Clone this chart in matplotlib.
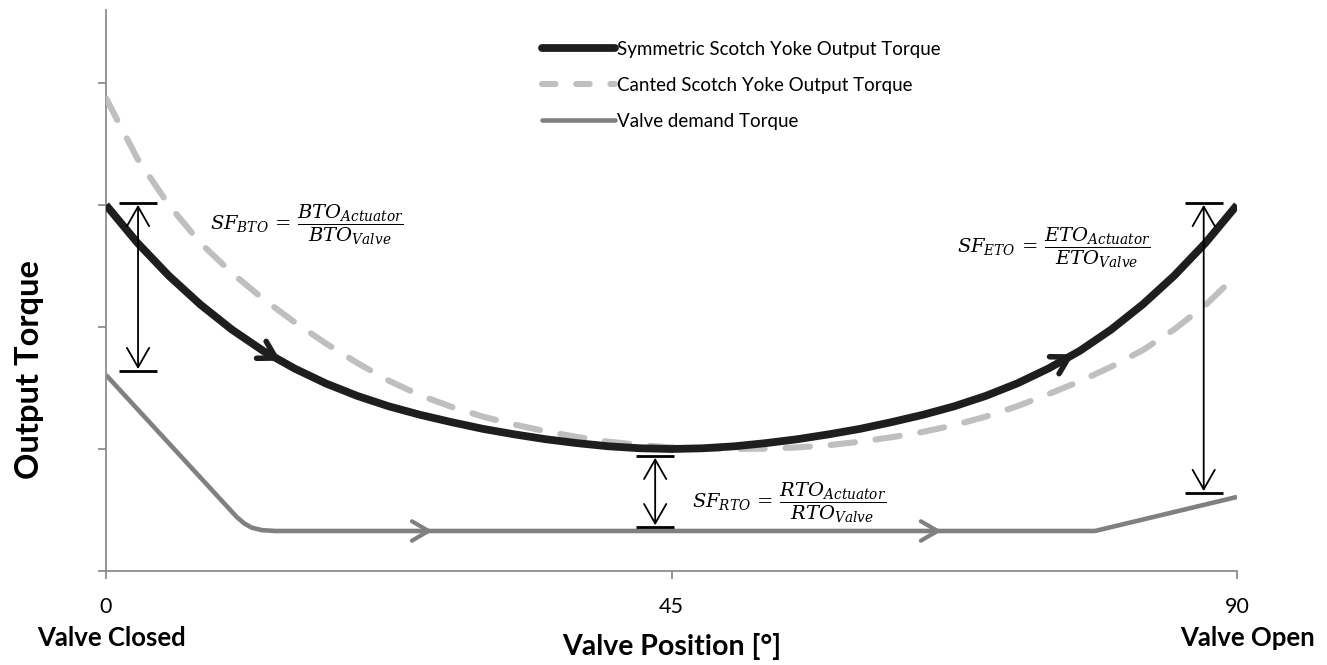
import numpy as np
import matplotlib
matplotlib.use("Agg")
import matplotlib.pyplot as plt
from matplotlib.lines import Line2D

plt.rcParams['font.family'] = ['Lato', 'DejaVu Sans']
plt.rcParams['mathtext.fontset'] = 'dejavuserif'

# ---- data ----
pos_grid = [0, 2.5, 5, 7.5, 10, 12.5, 15, 17.5, 20, 22.5, 25, 27.5, 30, 32.5, 35, 37.5, 40, 42.5, 45,
            47.5, 50, 52.5, 55, 57.5, 60, 62.5, 65, 67.5, 70, 72.5, 75, 77.5, 80, 82.5, 85, 87.5, 90]
symmetric_torque = [3.00, 2.69, 2.42, 2.185, 1.98, 1.805, 1.66, 1.537, 1.435, 1.35, 1.28, 1.22, 1.165,
                    1.12, 1.08, 1.048, 1.022, 1.006, 1.00,
                    1.006, 1.022, 1.048, 1.08, 1.12, 1.165, 1.22, 1.28, 1.35, 1.435, 1.537, 1.66,
                    1.805, 1.98, 2.185, 2.42, 2.69, 3.00]
canted_torque = [3.875, 3.38, 3.00, 2.69, 2.445, 2.23, 2.04, 1.865, 1.705, 1.56, 1.44, 1.345, 1.265,
                 1.20, 1.145, 1.098, 1.06, 1.032, 1.013, 1.003, 1.00, 1.003, 1.013, 1.031, 1.06,
                 1.096, 1.14, 1.195, 1.265, 1.35, 1.45, 1.555, 1.675, 1.81, 1.98, 2.18, 2.43]
valve_pos = [0, 10.4, 11.0, 11.6, 12.4, 13.5, 78.7, 90]
valve_torque = [1.607, 0.443, 0.39, 0.355, 0.335, 0.328, 0.328, 0.607]

x_ticks = [0, 45, 90]
x_tick_labels = ['0', '45', '90']
y_ticks = [0, 1, 2, 3, 4]

labels = ['Symmetric Scotch Yoke Output Torque', 'Canted Scotch Yoke Output Torque', 'Valve demand Torque']

# safety-factor markers: (x, y_low, y_high)
sf_bto = (2.55, 1.64, 3.016)
sf_rto = (43.7, 0.36, 0.943)
sf_eto = (87.35, 0.64, 3.016)

# ---- figure ----
fig = plt.figure(figsize=(13.27, 6.65), dpi=100)
ax = fig.add_axes([106/1327, 1-571/665, (1237-106)/1327, (571-10)/665])
ax.set_xlim(0, 90)
ax.set_ylim(0, 561/122)

c_black = '#1e1e1e'
c_light = '#bfbfbf'
c_gray = '#808080'

ax.plot(valve_pos, valve_torque, color=c_gray, lw=3.3, solid_capstyle='butt',
        solid_joinstyle='round', zorder=2)
ax.plot(pos_grid, canted_torque, color=c_light, lw=4.4, dashes=(4.0, 3.4), dash_capstyle='round',
        dash_joinstyle='round', zorder=3)
ax.plot(pos_grid, symmetric_torque, color=c_black, lw=5.6, solid_capstyle='butt',
        solid_joinstyle='round', zorder=4)

# direction chevrons on curves
def chevron(xc, xs, ys, color, lw, ms):
    y1 = np.interp(xc, xs, ys)
    y0 = np.interp(xc - 0.6, xs, ys)
    ax.annotate('', xy=(xc, y1), xytext=(xc - 0.6, y0),
                arrowprops=dict(arrowstyle='->,head_length=0.6,head_width=0.35', lw=lw,
                                color=color, mutation_scale=ms, shrinkA=0, shrinkB=0),
                zorder=5)

chevron(13.9, pos_grid, symmetric_torque, c_black, 4, 20)
chevron(77.0, pos_grid, symmetric_torque, c_black, 4, 20)
chevron(26.0, valve_pos, valve_torque, c_gray, 3, 20)
chevron(66.5, valve_pos, valve_torque, c_gray, 3, 20)

# safety-factor double arrows with bars
for (xm, ylo, yhi) in [sf_bto, sf_rto, sf_eto]:
    ax.plot([xm - 1.5, xm + 1.5], [yhi, yhi], color='black', lw=2, solid_capstyle='butt', zorder=6)
    ax.plot([xm - 1.5, xm + 1.5], [ylo, ylo], color='black', lw=2, solid_capstyle='butt', zorder=6)
    ax.annotate('', xy=(xm, yhi - 0.015), xytext=(xm, ylo + 0.015),
                arrowprops=dict(arrowstyle='<->,head_length=0.7,head_width=0.4', lw=1.3,
                                color='black', mutation_scale=20, shrinkA=0, shrinkB=0),
                zorder=6)

fs_eq = 14
ax.text(8.27, 2.836, r'$SF_{BTO}\,=\,\dfrac{BTO_{Actuator}}{BTO_{Valve}}$', fontsize=fs_eq,
        ha='left', va='center')
ax.text(46.6, 0.557, r'$SF_{RTO}\,=\,\dfrac{RTO_{Actuator}}{RTO_{Valve}}$', fontsize=fs_eq,
        ha='left', va='center')
ax.text(67.7, 2.647, r'$SF_{ETO}\,=\,\dfrac{ETO_{Actuator}}{ETO_{Valve}}$', fontsize=fs_eq,
        ha='left', va='center')

# spines / ticks
for s in ['top', 'right']:
    ax.spines[s].set_visible(False)
for s in ['left', 'bottom']:
    ax.spines[s].set_color('#8c8c8c')
    ax.spines[s].set_linewidth(1.3)
ax.set_xticks(x_ticks)
ax.set_xticklabels(x_tick_labels)
ax.set_yticks(y_ticks)
ax.set_yticklabels([])
ax.tick_params(axis='both', colors='#8c8c8c', length=6, width=1.3, direction='out')
ax.tick_params(axis='x', labelcolor='black', labelsize=15.5, pad=13)

ax.set_xlabel('Valve Position [°]', fontsize=20.5, fontweight='bold', labelpad=11)
fig.text(30/1327, 1-370/665, 'Output Torque', fontsize=23.5, fontweight='bold',
         rotation=90, ha='center', va='center')
fig.text(112/1327, 1-638/665, 'Valve Closed', fontsize=18.5, fontweight='bold', ha='center', va='center')
fig.text(1248/1327, 1-638/665, 'Valve Open', fontsize=18.5, fontweight='bold', ha='center', va='center')

handles = [Line2D([], [], color=c_black, lw=5.6, solid_capstyle='round'),
           Line2D([], [], color=c_light, lw=4.4, dashes=(2.2, 3.4), dash_capstyle='round'),
           Line2D([], [], color=c_gray, lw=3.3, solid_capstyle='round')]
leg = fig.legend(handles, labels, loc='upper left', bbox_to_anchor=(534/1327, 1-33/665),
                 frameon=False, fontsize=13.5, handlelength=3.9, handletextpad=0.12,
                 labelspacing=1.02, borderaxespad=0)

fig.savefig('out.png', dpi=100, facecolor='white')
